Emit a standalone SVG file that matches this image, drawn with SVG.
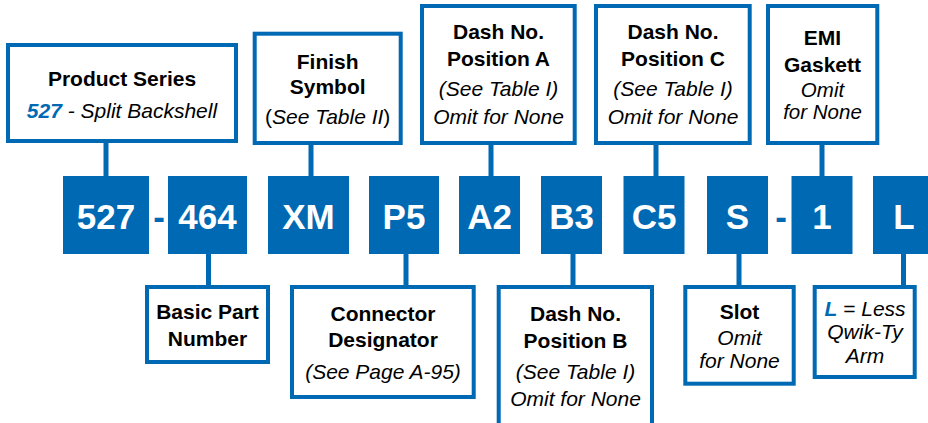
<svg xmlns="http://www.w3.org/2000/svg" width="928" height="423" viewBox="0 0 928 423">
<style>
.box{fill:#fff;stroke:#0069B4;stroke-width:4}
.code{fill:#0069B4}
.ct{font-family:"Liberation Sans",Arial,sans-serif;font-weight:bold;font-size:35px;fill:#fff;text-anchor:middle}
.dash{font-family:"Liberation Sans",Arial,sans-serif;font-weight:bold;font-size:35px;fill:#0069B4;text-anchor:middle}
.b{font-family:"Liberation Sans",Arial,sans-serif;font-weight:bold;font-size:21px;fill:#000;text-anchor:middle}
.i{font-family:"Liberation Sans",Arial,sans-serif;font-style:italic;font-size:21px;fill:#000;text-anchor:middle}
.bl{fill:#0069B4;font-weight:bold}
.n{font-style:normal}
.stem{stroke:#0069B4;stroke-width:5;fill:none}
</style>
<g id="connectors">
<line class="stem" x1="106" y1="143" x2="106" y2="177"/>
<line class="stem" x1="311" y1="145" x2="311" y2="177"/>
<line class="stem" x1="491" y1="145" x2="491" y2="177"/>
<line class="stem" x1="656" y1="145" x2="656" y2="177"/>
<line class="stem" x1="822" y1="145" x2="822" y2="177"/>
<line class="stem" x1="208.5" y1="253" x2="208.5" y2="287"/>
<line class="stem" x1="406" y1="253" x2="406" y2="287"/>
<line class="stem" x1="573" y1="253" x2="573" y2="287"/>
<line class="stem" x1="739" y1="253" x2="739" y2="287"/>
<line class="stem" x1="903.5" y1="253" x2="903.5" y2="287"/>
</g>
<g id="code">
<g id="c527"><rect class="code" x="63" y="176" width="86" height="78"/><text class="ct" x="106" y="228.5">527</text></g>
<text class="dash" x="159" y="228.5">-</text>
<g id="c464"><rect class="code" x="168" y="176" width="79" height="78"/><text class="ct" x="207.5" y="228.5">464</text></g>
<g id="cXM"><rect class="code" x="268" y="176" width="81" height="78"/><text class="ct" x="308.5" y="228.5">XM</text></g>
<g id="cP5"><rect class="code" x="369" y="176" width="70" height="78"/><text class="ct" x="404" y="228.5">P5</text></g>
<g id="cA2"><rect class="code" x="459" y="176" width="61" height="78"/><text class="ct" x="489.5" y="228.5">A2</text></g>
<g id="cB3"><rect class="code" x="541" y="176" width="61" height="78"/><text class="ct" x="571.5" y="228.5">B3</text></g>
<g id="cC5"><rect class="code" x="623.5" y="176" width="61" height="78"/><text class="ct" x="654" y="228.5">C5</text></g>
<g id="cS"><rect class="code" x="707" y="176" width="61" height="78"/><text class="ct" x="737.5" y="228.5">S</text></g>
<text class="dash" x="781" y="228.5">-</text>
<g id="c1"><rect class="code" x="791.5" y="176" width="61" height="78"/><text class="ct" x="822" y="228.5">1</text></g>
<g id="cL"><rect class="code" x="873" y="176" width="62" height="78"/><text class="ct" x="904" y="228.5">L</text></g>
</g>
<g id="product-series">
<rect class="box" x="8" y="45" width="228" height="96"/>
<text class="b" x="122" y="86">Product Series</text>
<text class="i" x="122" y="117.5"><tspan class="bl">527</tspan> - Split Backshell</text>
</g>
<g id="finish-symbol">
<rect class="box" x="254.7" y="33.7" width="146" height="109.3"/>
<text class="b" x="327.7" y="68.5">Finish</text>
<text class="b" x="327.7" y="94">Symbol</text>
<text class="i" x="327.7" y="123.5"><tspan class="n">(</tspan>See Table II<tspan class="n">)</tspan></text>
</g>
<g id="dash-a">
<rect class="box" x="422" y="6" width="152.7" height="137"/>
<text class="b" x="498.5" y="38.5">Dash No.</text>
<text class="b" x="498.5" y="65.5">Position A</text>
<text class="i" x="498.5" y="96">(See Table I)</text>
<text class="i" x="498.5" y="123.5">Omit for None</text>
</g>
<g id="dash-c">
<rect class="box" x="596" y="6" width="153.7" height="137"/>
<text class="b" x="673" y="38.5">Dash No.</text>
<text class="b" x="673" y="65.5">Position C</text>
<text class="i" x="673" y="96">(See Table I)</text>
<text class="i" x="673" y="123.5">Omit for None</text>
</g>
<g id="emi-gaskett">
<rect class="box" x="768" y="6" width="109.3" height="137"/>
<text class="b" x="822.5" y="45">EMI</text>
<text class="b" x="822.5" y="71.5">Gaskett</text>
<text class="i" x="822.5" y="97" style="font-size:20.5px">Omit</text>
<text class="i" x="822.5" y="119" style="font-size:20.5px">for None</text>
</g>
<g id="basic-part">
<rect class="box" x="147" y="287" width="121" height="75"/>
<text class="b" x="207.5" y="319">Basic Part</text>
<text class="b" x="207.5" y="345.5">Number</text>
</g>
<g id="connector-designator">
<rect class="box" x="292" y="287" width="181.7" height="110"/>
<text class="b" x="383" y="320.5">Connector</text>
<text class="b" x="383" y="346.5">Designator</text>
<text class="i" x="383" y="379">(See Page A-95)</text>
</g>
<g id="dash-b">
<rect class="box" x="498.7" y="287" width="153.3" height="150"/>
<text class="b" x="575.5" y="320.5">Dash No.</text>
<text class="b" x="575.5" y="347.5">Position B</text>
<text class="i" x="575.5" y="379">(See Table I)</text>
<text class="i" x="575.5" y="406">Omit for None</text>
</g>
<g id="slot">
<rect class="box" x="685.3" y="287" width="108.4" height="96.7"/>
<text class="b" x="739.5" y="318.5">Slot</text>
<text class="i" x="739.5" y="345">Omit</text>
<text class="i" x="739.5" y="367.5">for None</text>
</g>
<g id="less-qwik-ty">
<rect class="box" x="814.7" y="287" width="100" height="90"/>
<text class="i" x="865" y="315.5"><tspan class="bl">L</tspan> = Less</text>
<text class="i" x="865" y="338.5">Qwik-Ty</text>
<text class="i" x="865" y="363">Arm</text>
</g>
</svg>
